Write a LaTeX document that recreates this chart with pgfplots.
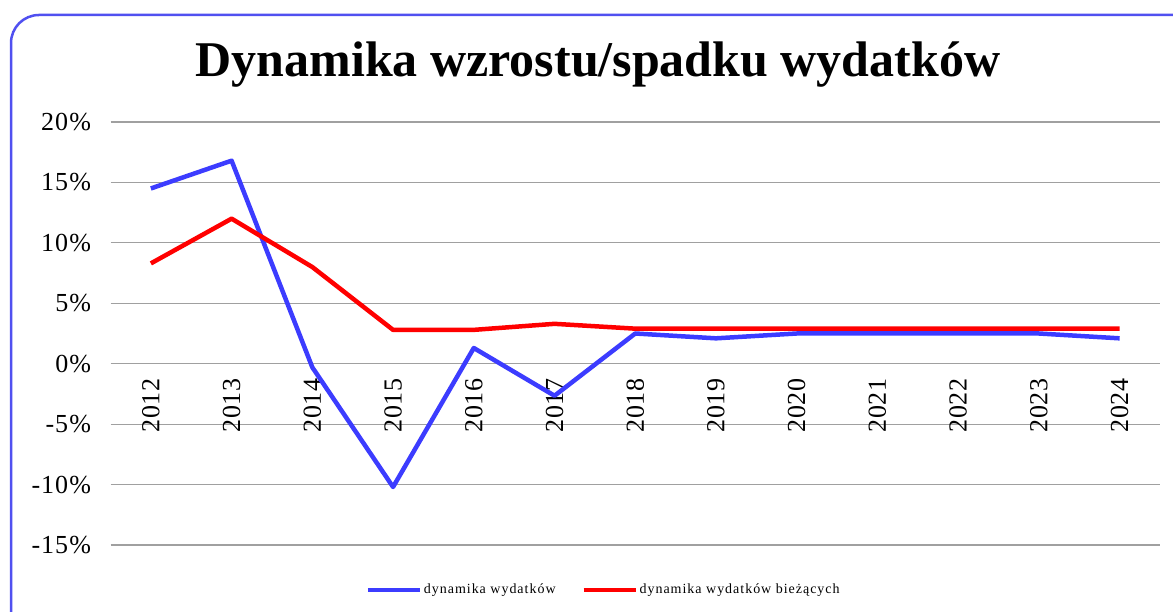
\documentclass[border=0pt]{standalone}
\usepackage{pgfplots}
\pgfplotsset{compat=1.18}
\usepackage{fontspec}
\setmainfont{Liberation Serif}
\definecolor{myblue}{RGB}{60,60,255}
\definecolor{myred}{RGB}{255,0,0}
\definecolor{frameblue}{RGB}{80,80,240}
\definecolor{gridgray}{RGB}{160,160,160}

\begin{document}
\begin{tikzpicture}[x=1pt,y=1pt]
\useasboundingbox (0,0) rectangle (1173,612);
\begin{scope}
\clip (0,0) rectangle (1173,612);
\draw[frameblue, line width=2.5pt, rounded corners=28pt] (11,-40) rectangle (1210,597);
\end{scope}
\node[font=\fontsize{50}{60}\selectfont\bfseries] at (598,547) {Dynamika wzrostu/spadku wydatków};
\begin{axis}[
  at={(110.5pt,67pt)}, anchor=south west,
  scale only axis, width=1049.5pt, height=423pt,
  xmin=-0.5, xmax=12.5, ymin=-15, ymax=20,
  axis x line*=middle, axis y line*=left,
  axis line style={draw=none},
  major tick length=0pt,
  ymajorgrids, grid style={gridgray, line width=1.2pt},
  ytick={-15,-10,-5,0,5,10,15,20},
  yticklabels={-15\%,-10\%,-5\%,0\%,5\%,10\%,15\%,20\%},
  yticklabel style={font=\fontsize{26}{30}\selectfont\addfontfeatures{LetterSpace=4}, xshift=-16pt},
  xtick={0,...,12},
  xticklabels={2012,2013,2014,2015,2016,2017,2018,2019,2020,2021,2022,2023,2024},
  xticklabel style={yshift=-11pt, rotate=90, anchor=east, font=\fontsize{26}{30}\selectfont\addfontfeatures{LetterSpace=3}},
  legend style={at={(0.47,-0.106)}, anchor=center, draw=none, fill=none,
    legend columns=2, font=\fontsize{14}{16}\selectfont\addfontfeatures{LetterSpace=7},
    /tikz/every even column/.append style={column sep=24pt}},
  legend image code/.code={\draw[#1, line width=4pt] (0pt,0pt) -- (52pt,0pt);},
]
\addplot[myblue, line width=4.5pt, line join=round] coordinates {
 (0,14.5) (1,16.8) (2,-0.3) (3,-10.2) (4,1.3) (5,-2.65) (6,2.5) (7,2.1) (8,2.5) (9,2.5) (10,2.5) (11,2.5) (12,2.1)};
\addlegendentry{dynamika wydatków}
\addplot[myred, line width=4.5pt, line join=round] coordinates {
 (0,8.3) (1,12.0) (2,8.0) (3,2.8) (4,2.8) (5,3.3) (6,2.9) (7,2.9) (8,2.9) (9,2.9) (10,2.9) (11,2.9) (12,2.9)};
\addlegendentry{dynamika wydatków bieżących}
\end{axis}
\end{tikzpicture}
\end{document}
